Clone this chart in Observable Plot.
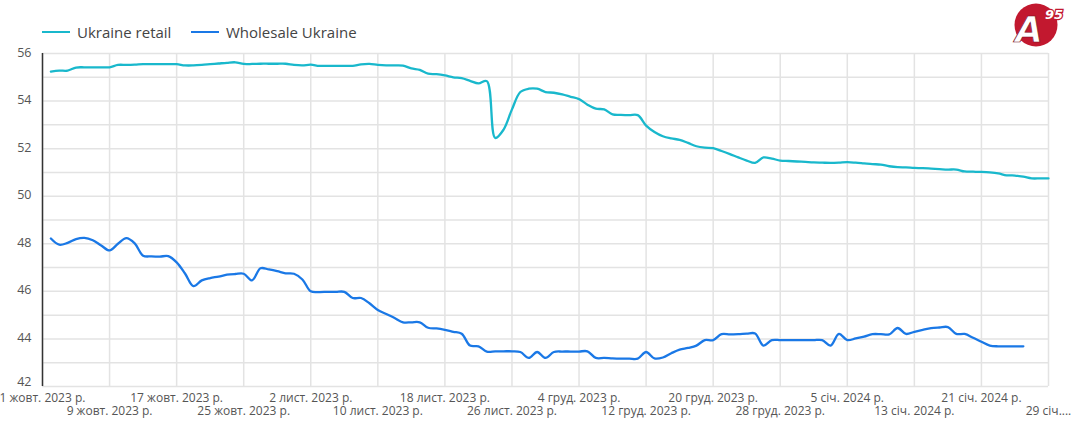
<!DOCTYPE html>
<html><head><meta charset="utf-8">
<script src="https://cdn.jsdelivr.net/npm/d3@7"></script>
<script src="https://cdn.jsdelivr.net/npm/@observablehq/plot@0.6"></script>
<style>
body{margin:0;background:#fff;font-family:"Open Sans",sans-serif;}
#wrap{position:relative;width:1080px;height:430px;overflow:hidden;background:#fff;}
.lg{position:absolute;top:22px;height:20px;display:flex;align-items:center;font-size:15px;color:#444;z-index:2;}
.sw{display:inline-block;width:28px;height:2.5px;margin-right:7px;}
#chart{position:absolute;left:0;top:30px;z-index:1;}
#logo{position:absolute;left:1010px;top:0px;z-index:2;}
</style></head>
<body><div id="wrap">
<div class="lg" style="left:42px"><span class="sw" style="background:#19b8cc"></span>Ukraine retail</div>
<div class="lg" style="left:191px"><span class="sw" style="background:#1a78e6"></span>Wholesale Ukraine</div>
<svg id="logo" width="70" height="50" viewBox="0 0 70 50">
  <circle cx="26" cy="25" r="21.5" fill="#c2182f"/>
  <text x="19" y="42" font-family="DejaVu Sans" font-weight="bold" font-style="italic" font-size="35" fill="#fff" stroke="#7a0d1c" stroke-width="0.7" text-anchor="middle">A</text>
  <text x="35" y="19" font-family="DejaVu Sans" font-weight="bold" font-style="italic" font-size="13" fill="#fff" stroke="#c2182f" stroke-width="2.5" paint-order="stroke">95</text>
</svg>
<div id="chart"></div>
</div>
<script>
const seriesNames = ["Ukraine retail", "Wholesale Ukraine"];
const seriesColors = ["#19b8cc", "#1a78e6"];
const startDate = "2023-10-02";
const retail = [
55.24,55.28,55.28,55.41,55.42,55.42,55.42,55.42,55.52,55.52,
55.53,55.55,55.55,55.55,55.55,55.55,55.50,55.50,55.52,55.55,
55.58,55.61,55.63,55.56,55.56,55.57,55.57,55.57,55.57,55.52,
55.50,55.53,55.48,55.48,55.48,55.48,55.48,55.54,55.56,55.52,
55.50,55.50,55.49,55.37,55.31,55.15,55.13,55.08,55.00,54.96,
54.85,54.74,54.84,52.45,52.80,53.65,54.38,54.52,54.52,54.38,
54.35,54.28,54.18,54.08,53.85,53.68,53.65,53.44,53.42,53.41,
53.41,52.97,52.70,52.52,52.43,52.37,52.24,52.10,52.04,52.02,
51.90,51.77,51.63,51.50,51.40,51.63,51.58,51.50,51.48,51.46,
51.44,51.42,51.41,51.40,51.41,51.43,51.41,51.38,51.35,51.33,
51.26,51.22,51.21,51.19,51.18,51.16,51.14,51.12,51.12,51.04,
51.03,51.02,51.00,50.96,50.88,50.87,50.82,50.75,50.75,50.75
];
const wholesale = [
48.22,47.96,48.04,48.20,48.25,48.15,47.93,47.72,48.00,48.24,
48.02,47.50,47.47,47.46,47.48,47.22,46.75,46.22,46.46,46.56,
46.62,46.70,46.73,46.74,46.46,46.97,46.92,46.85,46.76,46.74,
46.50,46.00,45.97,45.98,45.98,45.98,45.72,45.72,45.50,45.22,
45.05,44.88,44.70,44.70,44.70,44.47,44.44,44.38,44.30,44.22,
43.72,43.69,43.47,43.48,43.48,43.48,43.45,43.20,43.45,43.20,
43.45,43.47,43.47,43.47,43.48,43.20,43.20,43.18,43.17,43.17,
43.17,43.45,43.18,43.22,43.40,43.55,43.62,43.72,43.95,43.95,
44.20,44.19,44.20,44.22,44.23,43.72,43.95,43.95,43.95,43.95,
43.95,43.95,43.95,43.72,44.21,43.95,44.02,44.10,44.20,44.20,
44.19,44.46,44.21,44.30,44.38,44.45,44.48,44.50,44.21,44.21,
44.05,43.88,43.72,43.69,43.69,43.69,43.69
];
const tickDates = ["2023-10-01","2023-10-09","2023-10-17","2023-10-25","2023-11-02","2023-11-10","2023-11-18","2023-11-26","2023-12-04","2023-12-12","2023-12-20","2023-12-28","2024-01-05","2024-01-13","2024-01-21","2024-01-29"];
const tickLabels = ["1 жовт. 2023 р.","9 жовт. 2023 р.","17 жовт. 2023 р.","25 жовт. 2023 р.","2 лист. 2023 р.","10 лист. 2023 р.","18 лист. 2023 р.","26 лист. 2023 р.","4 груд. 2023 р.","12 груд. 2023 р.","20 груд. 2023 р.","28 груд. 2023 р.","5 січ. 2024 р.","13 січ. 2024 р.","21 січ. 2024 р.","29 січ...."];
const yGrid = [42,43,44,45,46,47,48,49,50,51,52,53,54,55,56];
const yLabels = [42,44,46,48,50,52,54,56];

const d0 = new Date(startDate);
const rows = [];
[retail, wholesale].forEach((arr, s) => arr.forEach((v, i) => rows.push({date: d3.utcDay.offset(d0, i), value: v, series: seriesNames[s]})));
const ticks = tickDates.map((t, i) => ({date: new Date(t), label: tickLabels[i], row: i % 2}));
const yMin = yLabels[0];

const chart = Plot.plot({
  width: 1080, height: 400,
  marginTop: 23, marginBottom: 44, marginLeft: 42, marginRight: 32,
  x: {type: "utc", domain: [new Date(tickDates[0]), new Date(tickDates[tickDates.length - 1])], axis: null},
  y: {domain: [42, 56], axis: null},
  color: {domain: seriesNames, range: seriesColors},
  style: {fontFamily: "'Open Sans', sans-serif", fontSize: "12px", color: "#555", background: "transparent"},
  marks: [
    Plot.ruleY(yGrid, {stroke: "#e3e3e3", strokeWidth: 1.5}),
    Plot.ruleX(ticks, {x: "date", stroke: "#e3e3e3", strokeWidth: 1.5}),
    Plot.ruleX([ticks[0]], {x: "date", stroke: "#333", strokeWidth: 1.5}),
    Plot.text(yLabels.filter(d => d !== yMin), {x: ticks[0].date, y: d => d, text: d => String(d), textAnchor: "end", dx: -11, dy: -1, fill: "#555", fontSize: 12.5}),
    Plot.text([yMin], {x: ticks[0].date, y: d => d, text: d => String(d), textAnchor: "end", dx: -11, dy: -5, fill: "#555", fontSize: 12.5}),
    Plot.text(ticks.filter(d => d.row === 0), {x: "date", text: "label", frameAnchor: "bottom", dy: 15, fill: "#555"}),
    Plot.text(ticks.filter(d => d.row === 1), {x: "date", text: "label", frameAnchor: "bottom", dy: 28.5, fill: "#555"}),
    Plot.lineY(rows, {x: "date", y: "value", z: "series", stroke: "series", strokeWidth: 2.3, curve: "catmull-rom"})
  ]
});
document.getElementById("chart").appendChild(chart);
</script>
</body></html>
